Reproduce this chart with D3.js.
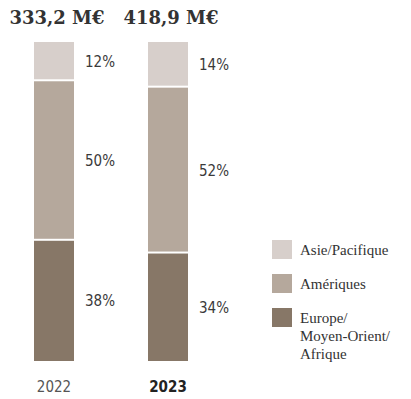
<!DOCTYPE html>
<html><head><meta charset="utf-8">
<script src="https://cdn.jsdelivr.net/npm/d3@7"></script>
<style>
html,body{margin:0;padding:0;background:#fff;}
svg{display:block;}
</style></head>
<body>
<script>
const years = ["2022", "2023"];
const totals = ["333,2 M€", "418,9 M€"];
const regions = ["Europe/Moyen-Orient/Afrique", "Amériques", "Asie/Pacifique"];
const europe = [38, 34];
const ameriques = [50, 52];
const asie = [12, 14];
const colors = ["#877767", "#b5a89c", "#d7cfcb"];
const legendLabels = [["Asie/Pacifique"], ["Amériques"], ["Europe/", "Moyen-Orient/", "Afrique"]];
const legendColors = ["#d7cfcb", "#b5a89c", "#877767"];

const W = 411, H = 399;
const svg = d3.select("body").append("svg").attr("width", W).attr("height", H);

const rows = years.map((y, i) => ({year: y, e: europe[i], a: ameriques[i], p: asie[i]}));
const stack = d3.stack().keys(["e", "a", "p"])(rows);

const x = d3.scaleBand().domain(years).range([34, 188]).paddingInner(74 / 114).paddingOuter(0);
const y = d3.scaleLinear().domain([0, 100]).range([361, 42]);

const g = svg.append("g");
stack.forEach((layer, li) => {
  g.selectAll(null).data(layer).enter().append("rect")
    .attr("x", d => x(d.data.year))
    .attr("width", x.bandwidth())
    .attr("y", d => y(d[1]) + (li < 2 ? 1 : 0))
    .attr("height", d => y(d[0]) - y(d[1]) - (li < 2 ? 1 : 0) - (li > 0 ? 1 : 0))
    .attr("fill", colors[li]);
  g.selectAll(null).data(layer).enter().append("text")
    .attr("x", d => x(d.data.year) + x.bandwidth() + 11)
    .attr("y", d => (y(d[0]) + y(d[1])) / 2 + 6)
    .attr("font-family", "'DejaVu Sans Condensed','Liberation Sans Narrow',sans-serif")
    .attr("font-stretch", "condensed")
    .attr("font-weight", 300)
    .attr("font-size", 15)
    .attr("fill", "#3a3a3a")
    .text(d => (d[1] - d[0]) + "%");
});

// totals
svg.selectAll(null).data(years).enter().append("text")
  .attr("x", d => x(d) + x.bandwidth() / 2 + 3)
  .attr("y", 24)
  .attr("text-anchor", "middle")
  .attr("font-family", "'DejaVu Serif','Liberation Serif',serif")
  .attr("font-weight", "bold")
  .attr("font-size", 18)
  .attr("fill", "#333")
  .text((d, i) => totals[i]);

// year axis
const axis = d3.axisBottom(x).tickSize(0).tickPadding(0);
const ax = svg.append("g").attr("transform", "translate(0,381)").call(axis);
ax.select(".domain").remove();
ax.selectAll("text")
  .attr("font-family", "'DejaVu Sans Condensed','Liberation Sans Narrow',sans-serif")
  .attr("font-stretch", "condensed")
  .attr("font-size", 15)
  .attr("font-weight", d => d === "2023" ? "bold" : "normal")
  .attr("fill", d => d === "2023" ? "#222" : "#555");

// legend
const lg = svg.append("g");
const ly = [240, 274, 308];
legendLabels.forEach((lines, i) => {
  lg.append("rect").attr("x", 272).attr("y", ly[i]).attr("width", 20).attr("height", 19).attr("fill", legendColors[i]);
  const t = lg.append("text")
    .attr("x", 300).attr("y", ly[i] + 15)
    .attr("font-family", "'Liberation Serif','DejaVu Serif',serif")
    .attr("font-size", 15)
    .attr("fill", "#333");
  lines.forEach((l, j) => t.append("tspan").attr("x", 300).attr("dy", j === 0 ? 0 : 18).text(l));
});
</script>
</body></html>
